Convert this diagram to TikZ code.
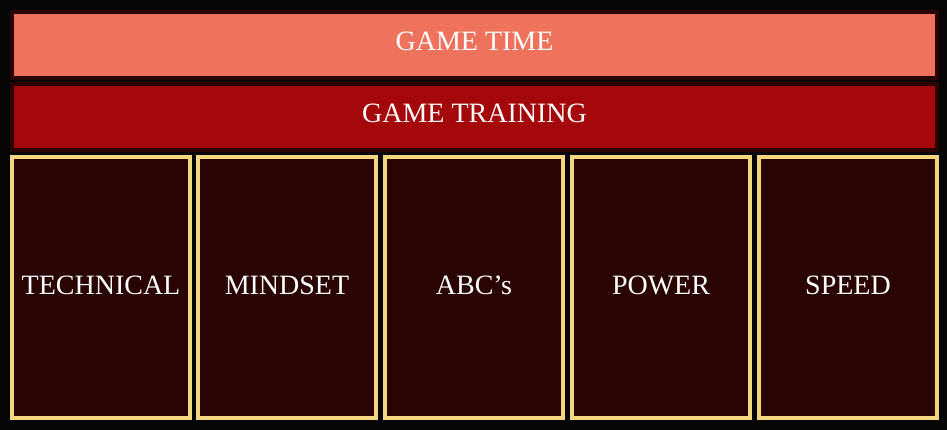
\documentclass[tikz,border=0pt]{standalone}
\usepackage{fontspec}
\setmainfont{Liberation Serif}
\definecolor{pagebg}{HTML}{050505}
\definecolor{timefill}{HTML}{EE725C}
\definecolor{trainfill}{HTML}{A5080A}
\definecolor{maroon}{HTML}{2A0303}
\definecolor{gold}{HTML}{F4D67E}
\begin{document}
\begin{tikzpicture}
  [
    x = 1pt, y = -1pt,
    every node/.style = {font = \fontsize{28}{30}\selectfont, text = white, inner sep = 0pt},
    bar/.style = {draw = maroon, line width = 4pt, minimum width = 925pt, minimum height = 66pt, text depth = 8pt},
    pillar/.style = {draw = gold, fill = maroon, line width = 4pt, minimum width = 178pt, minimum height = 261pt, text depth = 5pt}
  ]
    \fill [pagebg] (0,0) rectangle (947,430);
    \node (time) [bar, fill = timefill] at (474.5,45) {GAME TIME};
    \node (training) [bar, fill = trainfill] at (474.5,117) {GAME TRAINING};
    \node (tech) [pillar] at (101,287.5) {TECHNICAL};
    \node (mind) [pillar] at (287,287.5) {MINDSET};
    \node (abc) [pillar] at (474,287.5) {ABC's};
    \node (power) [pillar] at (661,287.5) {POWER};
    \node (speed) [pillar] at (848,287.5) {SPEED};
  \end{tikzpicture}
\end{document}
